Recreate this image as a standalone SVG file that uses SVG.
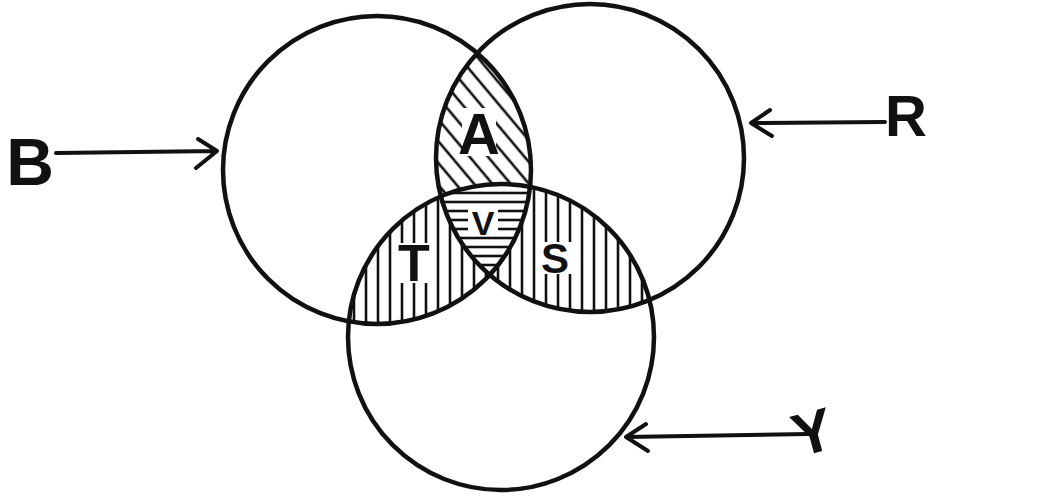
<svg xmlns="http://www.w3.org/2000/svg" width="1053" height="496" viewBox="0 0 1053 496">
<style>
.ring{fill:none;stroke:#111;stroke-width:4.5}
.lbl{font-family:"Liberation Sans",Arial,sans-serif;font-weight:bold;fill:#111;text-anchor:middle}
.arr{fill:none;stroke:#111;stroke-width:4;stroke-linecap:round;stroke-linejoin:round}
.hat{stroke:#111;stroke-width:2.6}
</style>
<defs>
<clipPath id="cB"><circle cx="377" cy="170" r="154"/></clipPath>
<clipPath id="cR"><circle cx="590" cy="158" r="154"/></clipPath>
<clipPath id="cY"><circle cx="501" cy="337" r="153"/></clipPath>
<clipPath id="cBR"><circle cx="377" cy="170" r="154"/><circle cx="590" cy="158" r="154"/></clipPath>
<pattern id="pDiag" patternUnits="userSpaceOnUse" width="14" height="14" patternTransform="rotate(50)">
<line class="hat" x1="0" y1="7" x2="14" y2="7"/>
</pattern>
<pattern id="pVert" patternUnits="userSpaceOnUse" width="12" height="20">
<line class="hat" x1="6" y1="0" x2="6" y2="20"/>
</pattern>
<pattern id="pHor" patternUnits="userSpaceOnUse" width="20" height="9">
<line class="hat" x1="0" y1="4" x2="20" y2="4"/>
</pattern>
</defs>
<rect width="1053" height="496" fill="#fff"/>
<g id="hatching">
<g clip-path="url(#cY)"><g clip-path="url(#cBR)"><rect x="330" y="180" width="340" height="150" fill="url(#pVert)"/></g></g>
<g clip-path="url(#cB)"><g clip-path="url(#cR)"><rect x="420" y="0" width="130" height="300" fill="#fff"/><rect x="420" y="0" width="130" height="300" fill="url(#pDiag)"/></g></g>
<g clip-path="url(#cB)"><g clip-path="url(#cR)"><g clip-path="url(#cY)"><rect x="420" y="170" width="130" height="120" fill="#fff"/><rect x="420" y="170" width="130" height="120" fill="url(#pHor)"/></g></g></g>
</g>
<g id="set-B"><circle class="ring" cx="377" cy="170" r="154"/></g>
<g id="set-R"><circle class="ring" cx="590" cy="158" r="154"/></g>
<g id="set-Y"><circle class="ring" cx="501" cy="337" r="153"/></g>
<g id="region-labels">
<rect x="462" y="108" width="34" height="48" fill="#fff"/>
<text class="lbl" x="479" y="154" font-size="58">A</text>
<rect x="468" y="209" width="30" height="27" fill="#fff"/>
<text class="lbl" x="483" y="235" font-size="34">V</text>
<rect x="396" y="243" width="36" height="40" fill="#fff"/>
<text class="lbl" x="414" y="281" font-size="52">T</text>
<rect x="538" y="242" width="35" height="32" fill="#fff"/>
<text class="lbl" x="555" y="273" font-size="42">S</text>
</g>
<g id="label-B"><text class="lbl" x="30" y="185" font-size="66">B</text></g>
<g id="label-R"><text class="lbl" x="906" y="136" font-size="58">R</text></g>
<g id="label-Y"><text class="lbl" x="0" y="0" font-size="60" transform="translate(818,452) rotate(-15)">Y</text></g>
<g id="connectors">
<path class="arr" d="M56 153 L217 151 M198 139 L217 151 L196 168"/>
<path class="arr" d="M885 122 L751 123 M770 110 L751 123 L772 136"/>
<path class="arr" d="M808 434 L626 437 M646 424 L626 437 L648 451"/>
</g>
</svg>
